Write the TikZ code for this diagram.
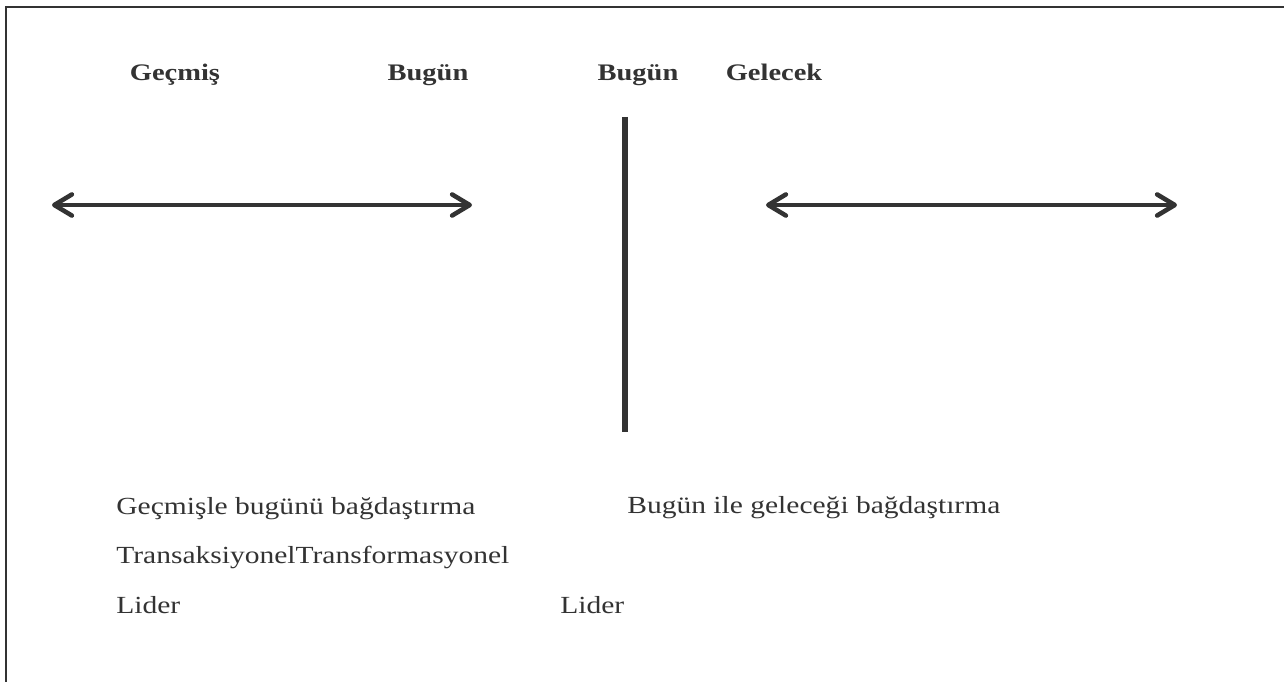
\documentclass[tikz,border=0pt]{standalone}
\usepackage{fontspec}
\setmainfont{Liberation Serif}[FakeStretch=1.2]
\usetikzlibrary{arrows.meta}
\definecolor{inkgray}{HTML}{333333}

\begin{document}
\begin{tikzpicture}[x=0.02cm, y=-0.02cm,
  head/.style={font=\fontsize{13.5}{16}\selectfont\bfseries, text=inkgray, anchor=base, inner sep=0pt},
  body/.style={font=\fontsize{14}{17}\selectfont, text=inkgray, anchor=base west, inner sep=0pt},
  timeline/.style={inkgray, line width=2.6pt,
    {Straight Barb[round, length=10pt, width=12pt]}-{Straight Barb[round, length=10pt, width=12pt]}}]
\useasboundingbox (0, 0) rectangle (1284, 682);
% frame, open at right and bottom
\draw[inkgray, line width=1.4pt] (6, 682) -- (6, 7) -- (1284, 7);

% headings
\node[head] (gecmis) at (175, 81) {Geçmiş};
\node[head] (bugunA) at (428, 81) {Bugün};
\node[head] (bugunB) at (638, 81) {Bugün};
\node[head] (gelecek) at (774, 81) {Gelecek};

% time axes
\coordinate (pastL) at (52, 205);
\coordinate (pastR) at (472, 205);
\coordinate (futL) at (766, 205);
\coordinate (futR) at (1177, 205);
\draw[timeline] (pastL) -- (pastR);
\draw[timeline] (futL) -- (futR);

% divider
\coordinate (nowT) at (625, 117);
\coordinate (nowB) at (625, 432);
\draw[inkgray, line width=3.2pt] (nowT) -- (nowB);

% captions
\node[body] (leftA) at (116, 514) {Geçmişle bugünü bağdaştırma};
\node[body] (leftB) at (116, 563) {TransaksiyonelTransformasyonel};
\node[body] (leftC) at (116, 613) {Lider};
\node[body] (rightA) at (627, 513) {Bugün ile geleceği bağdaştırma};
\node[body] (rightC) at (560, 613) {Lider};
\end{tikzpicture}
\end{document}
